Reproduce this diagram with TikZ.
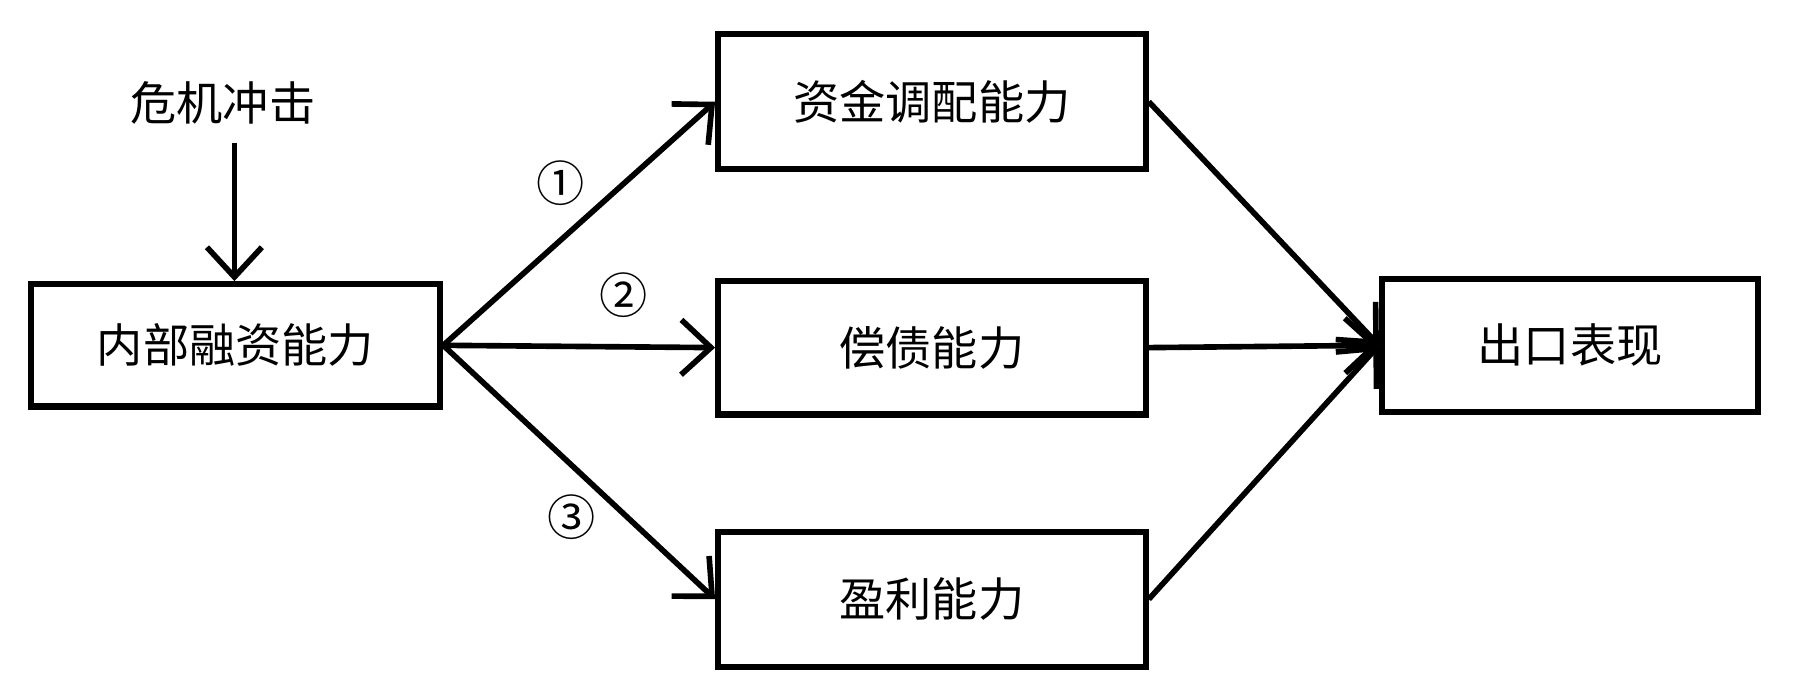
\documentclass[tikz,border=0pt]{standalone}
\usepackage{fontspec}
\setmainfont{Noto Sans CJK SC}
\usetikzlibrary{arrows.meta}
\begin{document}
\begin{tikzpicture}[box/.style={draw,line width=1.5pt,minimum height=#1,inner sep=0pt,font=\fontsize{11.5}{14}\selectfont},
  arr/.style={line width=1.4pt,-{Straight Barb[length=2.6mm,width=4.8mm,line width=1.4pt]}}]
\useasboundingbox (0,0) rectangle (15.68,6.04);
\node[box=1.07cm,minimum width=3.58cm] (nbrz) at (2.06,3.02) {内部融资能力};
\node[box=1.18cm,minimum width=3.74cm] (zjtp) at (8.15,5.15) {资金调配能力};
\node[box=1.17cm,minimum width=3.74cm] (czhl) at (8.15,3.00) {偿债能力};
\node[box=1.18cm,minimum width=3.74cm] (ylnl) at (8.15,0.80) {盈利能力};
\node[box=1.16cm,minimum width=3.29cm] (ckbx) at (13.73,3.02) {出口表现};
\node[font=\fontsize{11.5}{14}\selectfont] (wjcj) at (1.95,5.14) {危机冲击};
\coordinate (top) at (2.05,4.79);
\draw[arr] (top) -- (nbrz.north -| top);
\draw[arr] (nbrz.east) -- (zjtp.west);
\draw[arr] (nbrz.east) -- (czhl.west);
\draw[arr] (nbrz.east) -- (ylnl.west);
\draw[arr] (zjtp.east) -- (ckbx.west);
\draw[arr] (czhl.east) -- (ckbx.west);
\draw[arr] (ylnl.east) -- (ckbx.west);
\draw (4.90,4.44) node (n1) {\fontsize{12}{14}\selectfont ①};
\draw (5.45,3.46) node (n2) {\fontsize{12}{14}\selectfont ②};
\draw (5.00,1.52) node (n3) {\fontsize{12}{14}\selectfont ③};
\end{tikzpicture}
\end{document}
